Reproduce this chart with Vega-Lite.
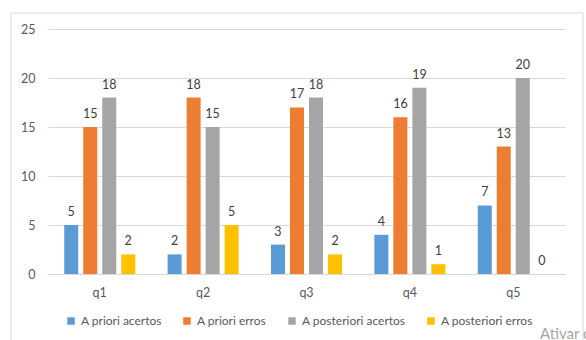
{
  "$schema": "https://vega.github.io/schema/vega-lite/v6.json",
  "width": 517,
  "height": 245,
  "autosize": {"type": "none"},
  "padding": {"left": 48, "top": 29, "right": 21, "bottom": 66},
  "background": "white",
  "config": {"font": "Lato", "view": {"stroke": null}},
  "layer": [
    {
      "data": {
        "values": [
          {"q": "q1", "serie": "A priori acertos", "v": 5},
          {"q": "q1", "serie": "A priori erros", "v": 15},
          {"q": "q1", "serie": "A posteriori acertos", "v": 18},
          {"q": "q1", "serie": "A posteriori erros", "v": 2},
          {"q": "q2", "serie": "A priori acertos", "v": 2},
          {"q": "q2", "serie": "A priori erros", "v": 18},
          {"q": "q2", "serie": "A posteriori acertos", "v": 15},
          {"q": "q2", "serie": "A posteriori erros", "v": 5},
          {"q": "q3", "serie": "A priori acertos", "v": 3},
          {"q": "q3", "serie": "A priori erros", "v": 17},
          {"q": "q3", "serie": "A posteriori acertos", "v": 18},
          {"q": "q3", "serie": "A posteriori erros", "v": 2},
          {"q": "q4", "serie": "A priori acertos", "v": 4},
          {"q": "q4", "serie": "A priori erros", "v": 16},
          {"q": "q4", "serie": "A posteriori acertos", "v": 19},
          {"q": "q4", "serie": "A posteriori erros", "v": 1},
          {"q": "q5", "serie": "A priori acertos", "v": 7},
          {"q": "q5", "serie": "A priori erros", "v": 13},
          {"q": "q5", "serie": "A posteriori acertos", "v": 20},
          {"q": "q5", "serie": "A posteriori erros", "v": 0}
        ]
      },
      "encoding": {
        "x": {
          "field": "q",
          "type": "nominal",
          "scale": {"paddingInner": 0.313, "paddingOuter": 0.157},
          "axis": {
            "title": null,
            "labelAngle": 0,
            "domainColor": "#d9d9d9",
            "ticks": false,
            "labelPadding": 12,
            "labelFontSize": 12.5,
            "labelColor": "#595959"
          }
        },
        "xOffset": {
          "field": "serie",
          "type": "nominal",
          "sort": ["A priori acertos", "A priori erros", "A posteriori acertos", "A posteriori erros"],
          "scale": {"paddingInner": 0.263, "paddingOuter": 0}
        },
        "y": {
          "field": "v",
          "type": "quantitative",
          "scale": {"domain": [0, 25], "nice": false},
          "axis": {
            "title": null,
            "values": [0, 5, 10, 15, 20, 25],
            "domain": false,
            "ticks": false,
            "tickSize": 0,
            "gridColor": "#d9d9d9",
            "labelPadding": 13,
            "labelFontSize": 12.5,
            "labelColor": "#595959"
          }
        }
      },
      "layer": [
        {
          "mark": {"type": "bar"},
          "encoding": {
            "y2": {"datum": 0},
            "color": {
              "field": "serie",
              "type": "nominal",
              "sort": ["A priori acertos", "A priori erros", "A posteriori acertos", "A posteriori erros"],
              "scale": {
                "domain": ["A priori acertos", "A priori erros", "A posteriori acertos", "A posteriori erros"],
                "range": ["#5B9BD5", "#ED7D31", "#A5A5A5", "#FFC000"]
              },
              "legend": {
                "title": null,
                "orient": "none",
                "direction": "horizontal",
                "columns": 4,
                "gridAlign": "none",
                "legendX": 17,
                "legendY": 286,
                "padding": 0,
                "symbolType": "square",
                "symbolSize": 56,
                "symbolStrokeWidth": 0,
                "labelOffset": 4,
                "columnPadding": 19,
                "labelFontSize": 12,
                "labelColor": "#595959"
              }
            }
          }
        },
        {
          "mark": {"type": "text", "dy": -9, "baseline": "alphabetic", "fontSize": 12.5, "color": "#404040"},
          "encoding": {"text": {"field": "v", "type": "quantitative"}}
        }
      ]
    },
    {
      "data": {"values": [{}]},
      "mark": {"type": "rect", "filled": false, "stroke": "#d9d9d9", "strokeWidth": 1},
      "encoding": {
        "x": {"datum": -0.0716, "type": "quantitative", "scale": {"domain": [0, 1], "nice": false, "zero": false}, "axis": null},
        "x2": {"datum": 1.0348},
        "y": {"datum": 26.63, "type": "quantitative"},
        "y2": {"datum": -7.5}
      }
    },
    {
      "data": {"values": [{}]},
      "mark": {"type": "text", "align": "left", "baseline": "alphabetic", "fontSize": 15, "color": "#a6a6a6", "text": "Ativar o Windows"},
      "encoding": {
        "x": {"datum": 0.9516, "type": "quantitative", "scale": {"domain": [0, 1], "nice": false, "zero": false}, "axis": null},
        "y": {"datum": -6.63, "type": "quantitative"}
      }
    }
  ],
  "resolve": {"scale": {"x": "independent"}}
}
